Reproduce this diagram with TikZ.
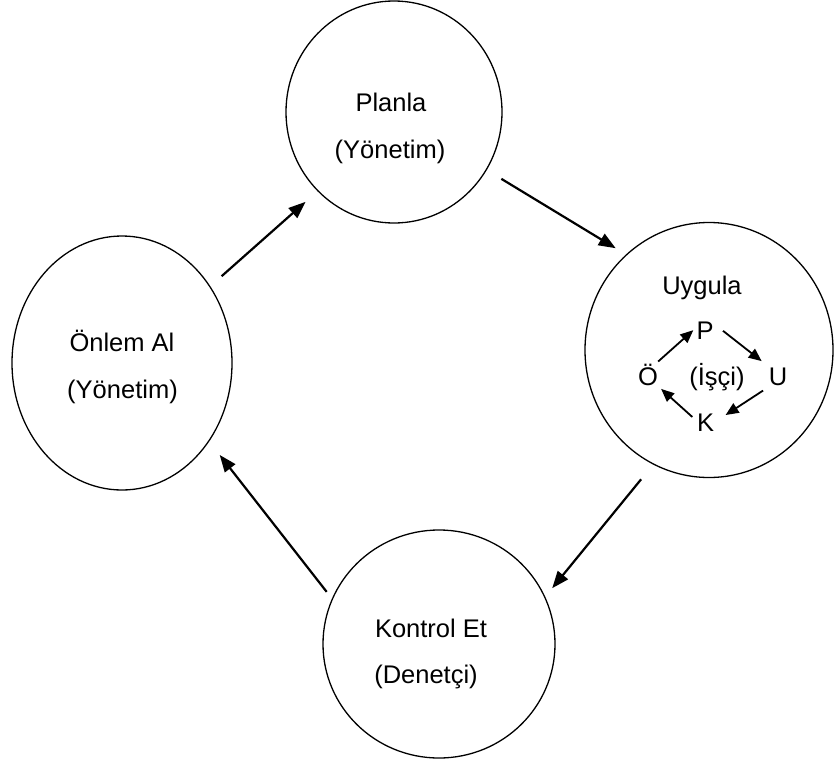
\documentclass[tikz,border=0pt]{standalone}
\usepackage{fontspec}
\setmainfont{Liberation Sans}
\usepackage{tikz}
\usetikzlibrary{arrows.meta, shapes.geometric}
\definecolor{cycleink}{RGB}{0, 0, 0}

\begin{document}
\begin{tikzpicture}[x=1pt, y=-1pt, >={Triangle[length=17pt, width=13pt]},
  stage/.style={draw=cycleink, ellipse, line width=1.3pt, inner sep=0pt},
  caption/.style={anchor=base, font=\fontsize{25.5}{30}\selectfont, inner sep=0pt},
  letter/.style={anchor=base, font=\fontsize{25.5}{30}\selectfont, inner sep=3pt,
    text height=18.3pt, text depth=0pt},
  flow/.style={draw=cycleink, line width=2.2pt, ->},
  miniflow/.style={draw=cycleink, line width=1.8pt, -{Triangle[length=13pt, width=11pt]}}]

  \useasboundingbox (0,0) rectangle (835,766);

  % The four stages of the cycle
  \node[stage, minimum width=216pt, minimum height=222pt] (planla) at (394,112) {};
  \node[stage, minimum width=248pt, minimum height=255pt] (uygula) at (709,350) {};
  \node[stage, minimum width=232pt, minimum height=228pt] (kontrol) at (439,644) {};
  \node[stage, minimum width=220pt, minimum height=254pt] (onlem) at (122,363) {};

  % stage texts
  \node[caption] (planlaT) at (391,111.7) {Planla};
  \node[caption] (planlaR) at (390,158.3) {(Yönetim)};
  \node[caption] (uygulaT) at (702,294.3) {Uygula};
  \node[caption] (kontrolT) at (431,637.3) {Kontrol Et};
  \node[caption] (kontrolR) at (426,683.3) {(Denetçi)};
  \node[caption] (onlemT) at (122,351.7) {Önlem Al};
  \node[caption] (onlemR) at (122.5,398.3) {(Yönetim)};

  % small cycle inside Uygula
  \node[caption] (isci) at (717,385.7) {(İşçi)};
  \foreach \name/\txt/\x/\y in {p/P/705/339.3, u/U/778/385.7, k/K/705.5/431.7, o/Ö/648/385.7}
    \node[letter] (\name) at (\x,\y) {\txt};
  \draw[miniflow, shorten <=4pt] (o.60) -- (p.west);
  \draw[miniflow, shorten <=8pt, shorten >=5pt] (p.20) -- (u.north west);
  \draw[miniflow, shorten <=3pt, shorten >=10pt] (u.south west) -- (k.10);
  \draw[miniflow, shorten <=2pt] (k.160) -- (o.south east);

  % main cycle
  \draw[flow, shorten <=15pt, shorten >=16pt] (onlem.41) -- (planla.226);
  \draw[flow, shorten <=17pt, shorten >=12pt] (planla.-32) -- (uygula.131.5);
  \draw[flow, shorten <=19pt, shorten >=11pt] (uygula.-116) -- (kontrol.24);
  \draw[flow, shorten <=8.5pt, shorten >=17pt] (kontrol.157) -- (onlem.-42);

\end{tikzpicture}
\end{document}
